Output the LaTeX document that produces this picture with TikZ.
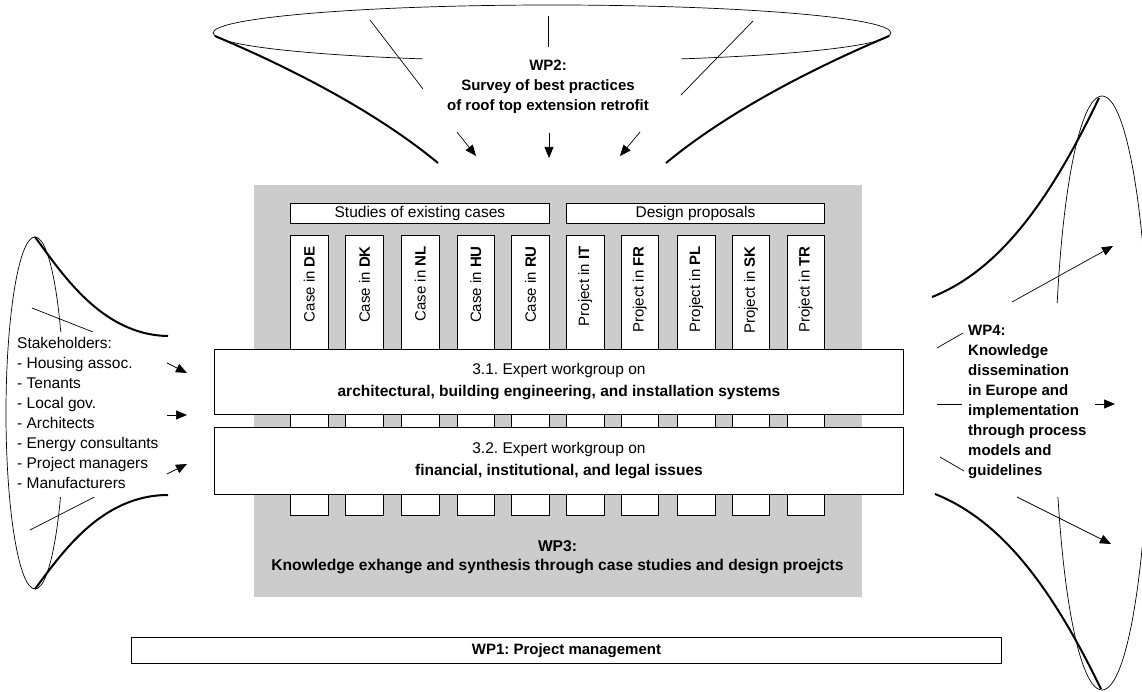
\documentclass[tikz,border=0pt]{standalone}
\usepackage{fontspec}
\setmainfont{Liberation Sans}
\usetikzlibrary{arrows.meta}
\definecolor{wpgray}{RGB}{204,204,204}
\tikzset{
  box/.style={draw=black, fill=white, line width=0.9pt, inner sep=0pt},
  thinline/.style={line width=0.7pt},
  funnel/.style={line width=2pt},
  arr/.style={line width=0.7pt, -{Triangle[length=11pt,width=9pt]}},
  txt/.style={font=\fontsize{15.5}{20}\selectfont, inner sep=0pt},
  btxt/.style={font=\fontsize{15}{20}\selectfont\bfseries, inner sep=0pt},
  boxtxt/.style={font=\fontsize{15.5}{22}\selectfont, align=center},
  collabel/.style={font=\fontsize{15}{18}\selectfont, rotate=90, anchor=east, inner sep=0pt},
}
\begin{document}
\frenchspacing
\begin{tikzpicture}[x=1pt,y=-1pt]
\useasboundingbox (0,0) rectangle (1142,692);

% ---------- WP2 funnel (top) ----------
\draw[thinline] (552,33) ellipse [x radius=339pt, y radius=28pt];
\draw[thinline] (370,20) -- (423,89);
\draw[thinline] (753,21) -- (681,95);
\draw[thinline] (548,16) -- (548,47);
\fill[white] (423,48) rectangle (681,125);
\draw[funnel] (215,36) .. controls (300,72) and (380,115) .. (438,163);
\draw[funnel] (889,36) .. controls (804,72) and (724,115) .. (666,163);
\node[btxt, align=center] (wp2) at (548,86.5) {WP2:\\Survey of best practices\\of roof top extension retrofit};
\coordinate (t1s) at (457,132); \coordinate (t1e) at (476,156);
\coordinate (t2s) at (549,133); \coordinate (t2e) at (549,158);
\coordinate (t3s) at (640,132); \coordinate (t3e) at (620,156);
\draw[arr] (t1s) -- (t1e);
\draw[arr] (t2s) -- (t2e);
\draw[arr] (t3s) -- (t3e);

% ---------- Stakeholder funnel (left) ----------
\draw[thinline] (35,413) ellipse [x radius=29pt, y radius=176pt];
\draw[thinline] (32,308) -- (93,332);
\draw[thinline] (30,530) -- (112,488);
\fill[white] (12,332) rectangle (162,497);
\draw[funnel] (35,237) .. controls (60,270) and (100,335) .. (168,336);
\draw[funnel] (35,589) .. controls (60,556) and (100,495) .. (168,495);
\node[txt, align=left, anchor=north west] (stake) at (17,337)
  {Stakeholders:\\- Housing assoc.\\- Tenants\\- Local gov.\\- Architects\\- Energy consultants\\- Project managers\\- Manufacturers};
\coordinate (l1s) at (167,363); \coordinate (l1e) at (187,373);
\coordinate (l2s) at (167,415); \coordinate (l2e) at (187,415);
\coordinate (l3s) at (167,474); \coordinate (l3e) at (187,464);
\draw[arr] (l1s) -- (l1e);
\draw[arr] (l2s) -- (l2e);
\draw[arr] (l3s) -- (l3e);

% ---------- WP4 funnel (right) ----------
\draw[thinline] (1102,393) ellipse [x radius=47pt, y radius=297pt];
\fill[white] (960,303) rectangle (1078,497);
\draw[funnel] (932,297) .. controls (1000,270) and (1050,200) .. (1099,98);
\draw[funnel] (935,494) .. controls (1003,521) and (1053,590) .. (1101,689);
\node[btxt, align=left, anchor=north west] (wp4) at (968,325)
  {WP4:\\Knowledge\\dissemination\\in Europe and\\implementation\\through process\\models and\\guidelines};
\coordinate (r0a) at (937,348); \coordinate (r0b) at (963,333);
\coordinate (r1a) at (937,404); \coordinate (r1b) at (962,404);
\coordinate (r2a) at (940,457); \coordinate (r2b) at (964,471);
\draw[thinline] (r0a) -- (r0b);
\draw[thinline] (r1a) -- (r1b);
\draw[thinline] (r2a) -- (r2b);
\coordinate (ra1s) at (1012,302); \coordinate (ra1e) at (1113,246);
\coordinate (ra2s) at (1095,404); \coordinate (ra2e) at (1115,404);
\coordinate (ra3s) at (1017,497); \coordinate (ra3e) at (1111,544);
\draw[arr] (ra1s) -- (ra1e);
\draw[arr] (ra2s) -- (ra2e);
\draw[arr] (ra3s) -- (ra3e);

% ---------- WP3 (centre) ----------
\fill[wpgray] (254,185) rectangle (862,597);
\node[box, boxtxt, minimum width=259pt, minimum height=20pt, anchor=north west] (studies) at (290,203) {Studies of existing cases};
\node[box, boxtxt, minimum width=258pt, minimum height=20pt, anchor=north west] (design) at (566,203) {Design proposals};

\foreach \xl/\lab/\nm in {290/{Case in \textbf{DE}}/cDE, 345.3/{Case in \textbf{DK}}/cDK, 401/{Case in \textbf{NL}}/cNL,
    456.5/{Case in \textbf{HU}}/cHU, 511.2/{Case in \textbf{RU}}/cRU, 566/{Project in \textbf{IT}}/pIT,
    620.5/{Project in \textbf{FR}}/pFR, 677/{Project in \textbf{PL}}/pPL, 731.7/{Project in \textbf{SK}}/pSK,
    786.5/{Project in \textbf{TR}}/pTR} {
  \node[box, minimum width=37.5pt, minimum height=280pt, anchor=north west] (\nm) at (\xl,235) {};
  \node[collabel] (\nm-lab) at ([yshift=-11pt]\nm.north) {\lab};
}

\node[box, boxtxt, minimum width=689pt, minimum height=65pt, anchor=north west] (eg1) at (214,349)
  {3.1. Expert workgroup on\\\textbf{architectural, building engineering, and installation systems}};
\node[box, boxtxt, minimum width=689pt, minimum height=67pt, anchor=north west] (eg2) at (214,427)
  {3.2. Expert workgroup on\\\textbf{financial, institutional, and legal issues}};

\node[btxt, align=center, font=\fontsize{15.6}{19}\selectfont\bfseries] (wp3) at (557.5,557.5)
  {WP3:\\Knowledge exhange and synthesis through case studies and design proejcts};

% ---------- WP1 ----------
\node[box, minimum width=870pt, minimum height=26pt, anchor=north west, font=\fontsize{15}{18}\selectfont\bfseries] (wp1) at (131,637)
  {WP1: Project management};
\end{tikzpicture}
\end{document}
